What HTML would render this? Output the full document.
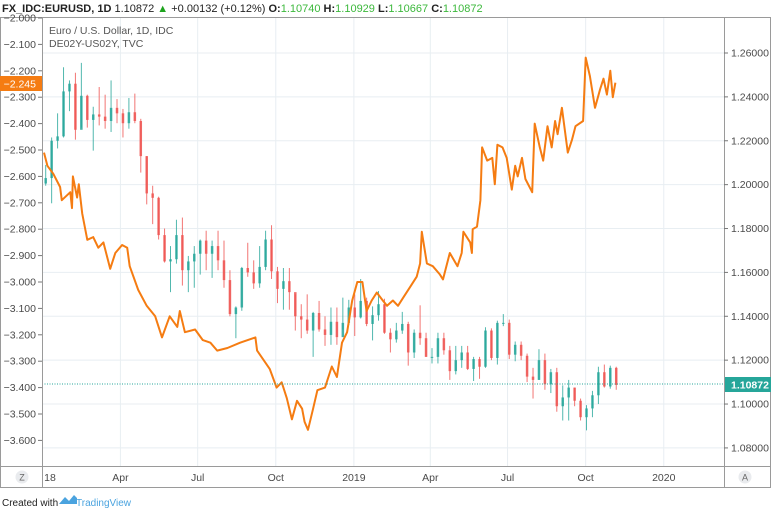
<!DOCTYPE html>
<html><head><meta charset="utf-8"><style>
body{margin:0;background:#fff;width:771px;height:510px;overflow:hidden;font-family:"Liberation Sans",sans-serif}
svg{display:block}
</style></head><body>
<svg width="771" height="510" viewBox="0 0 771 510" xmlns="http://www.w3.org/2000/svg">
<g id="grid"></g>
<g id="candles"></g>
<path id="spread" fill="none" stroke="#f57c12" stroke-width="2" stroke-linejoin="round"/>
<line x1="42" x2="724" y1="384" y2="384" stroke="#26a69a" stroke-width="1" stroke-dasharray="1,1.5"/>
<g stroke="#9a9a9a" fill="none">
<line x1="0" x2="771" y1="17.5" y2="17.5"/>
<line x1="42.5" x2="42.5" y1="17" y2="487"/>
<line x1="724.5" x2="724.5" y1="17" y2="487"/>
<line x1="0" x2="771" y1="466.5" y2="466.5"/>
<line x1="0" x2="771" y1="487.5" y2="487.5"/>
<line x1="0.5" x2="0.5" y1="17" y2="487"/>
<line x1="770.5" x2="770.5" y1="17" y2="487"/>
</g>
<g id="laxis" font-size="10.5" fill="#4a4a4a" text-anchor="end"></g>
<g id="raxis" font-size="10.5" fill="#4a4a4a"></g>
<g id="xaxis" font-size="10.5" fill="#4a4a4a" text-anchor="middle"></g>
<g><rect x="0" y="76" width="42" height="15" fill="#f57c12"/><text x="36" y="87.5" font-size="10.5" fill="#fff" text-anchor="end">−2.245</text></g>
<g><rect x="725" y="377" width="46" height="15" fill="#26a69a"/><text x="731" y="388.5" font-size="10.5" fill="#fff" font-weight="bold">1.10872</text></g>
<g font-size="11">
<text x="2" y="12" fill="#222" font-weight="bold">FX_IDC:EURUSD, 1D <tspan font-weight="normal">1.10872</tspan> <tspan fill="#1ea41e">▲</tspan> <tspan font-weight="normal">+0.00132 (+0.12%)</tspan> O:<tspan fill="#3cb83c" font-weight="normal">1.10740</tspan> H:<tspan fill="#3cb83c" font-weight="normal">1.10929</tspan> L:<tspan fill="#3cb83c" font-weight="normal">1.10667</tspan> C:<tspan fill="#3cb83c" font-weight="normal">1.10872</tspan></text>
</g>
<text x="49" y="34" font-size="10.5" fill="#555">Euro / U.S. Dollar, 1D, IDC</text>
<text x="49" y="47" font-size="10.5" fill="#555">DE02Y-US02Y, TVC</text>
<g><circle cx="22" cy="477" r="6.5" fill="#e9ebee"/><text x="22" y="480.5" font-size="9" fill="#666" text-anchor="middle">Z</text></g>
<g><circle cx="745" cy="477" r="6.5" fill="#e9ebee"/><text x="745" y="480.5" font-size="9" fill="#666" text-anchor="middle">A</text></g>
<g><text x="2" y="506" font-size="10" fill="#222">Created with</text>
<path d="M59 504 l6 -7 l4 4 l5 -6 l3 3 v6 z" fill="#4aa3df"/><text x="76" y="506" font-size="10" fill="#4aa3df">TradingView</text></g>
<script>
const closes=[1.2030,1.2200,1.2220,1.2425,1.2460,1.2250,1.2405,1.2295,1.2320,1.2310,1.2290,1.2350,1.2325,1.2280,1.2330,1.2290,1.2130,1.1960,1.1940,1.1770,1.1650,1.1660,1.1770,1.1610,1.1650,1.1685,1.1745,1.1685,1.1720,1.1655,1.1565,1.1410,1.1440,1.1620,1.1600,1.1550,1.1625,1.1750,1.1605,1.1525,1.1560,1.1510,1.1400,1.1385,1.1335,1.1415,1.1340,1.1315,1.1375,1.1305,1.1370,1.1440,1.1395,1.1470,1.1365,1.1405,1.1455,1.1325,1.1295,1.1335,1.1365,1.1235,1.1325,1.1300,1.1215,1.1215,1.1300,1.1245,1.1150,1.1200,1.1235,1.1160,1.1205,1.1170,1.1335,1.1210,1.1370,1.1370,1.1225,1.1270,1.1220,1.1125,1.1110,1.1200,1.1090,1.1145,1.0990,1.1030,1.1075,1.1015,1.0940,1.0980,1.1040,1.1145,1.1080,1.1165,1.1087];
const highs=[1.2090,1.2215,1.2325,1.2535,1.2475,1.2510,1.2555,1.2410,1.2355,1.2445,1.2410,1.2475,1.2390,1.2345,1.2395,1.2415,1.2300,1.2130,1.1995,1.1945,1.1800,1.1720,1.1840,1.1850,1.1675,1.1720,1.1750,1.1790,1.1745,1.1790,1.1745,1.1610,1.1445,1.1625,1.1735,1.1655,1.1720,1.1790,1.1815,1.1625,1.1620,1.1620,1.1500,1.1455,1.1500,1.1420,1.1470,1.1400,1.1440,1.1440,1.1485,1.1475,1.1500,1.1570,1.1485,1.1445,1.1515,1.1480,1.1345,1.1370,1.1420,1.1375,1.1340,1.1450,1.1325,1.1255,1.1325,1.1325,1.1265,1.1265,1.1265,1.1265,1.1215,1.1215,1.1350,1.1345,1.1380,1.1410,1.1385,1.1285,1.1285,1.1230,1.1165,1.1250,1.1230,1.1160,1.1165,1.1085,1.1110,1.1075,1.1025,1.0995,1.1060,1.1170,1.1180,1.1175,1.1170];
const lows=[1.1995,1.1915,1.2165,1.2215,1.2335,1.2205,1.2260,1.2260,1.2155,1.2270,1.2255,1.2240,1.2280,1.2215,1.2255,1.2280,1.2055,1.1910,1.1820,1.1750,1.1645,1.1510,1.1640,1.1540,1.1510,1.1530,1.1590,1.1610,1.1575,1.1610,1.1530,1.1400,1.1300,1.1425,1.1580,1.1525,1.1530,1.1610,1.1570,1.1460,1.1430,1.1430,1.1335,1.1300,1.1320,1.1215,1.1330,1.1265,1.1270,1.1270,1.1340,1.1360,1.1310,1.1390,1.1355,1.1290,1.1380,1.1320,1.1235,1.1280,1.1320,1.1175,1.1210,1.1270,1.1215,1.1185,1.1185,1.1225,1.1110,1.1135,1.1165,1.1155,1.1105,1.1115,1.1165,1.1200,1.1180,1.1355,1.1205,1.1195,1.1200,1.1100,1.1025,1.1110,1.1065,1.1050,1.0965,1.0925,1.0925,1.0990,1.0925,1.0880,1.0940,1.1000,1.1075,1.1070,1.1065];
const firstOpen=1.2005;
const spreadDays=[0,4,11,19,21,31,33,34,39,41,45,51,58,64,70,78,84,92,98,101,111,121,131,139,148,157,160,166,178,187,196,204,216,231,249,251,266,274,280,286,292,298,304,307,311,317,322,331,339,345,351,357,363,369,375,380,386,392,399,404,411,417,423,431,439,443,445,451,458,466,470,478,487,492,494,502,504,505,510,514,516,522,528,531,534,540,545,551,555,558,563,567,575,578,584,588,593,598,602,605,610,617,622,626,635,638,643,649,655,659,663,667,670,673];
const spreadVals=[-2.51,-2.56,-2.59,-2.64,-2.69,-2.66,-2.72,-2.60,-2.68,-2.63,-2.74,-2.84,-2.83,-2.87,-2.85,-2.95,-2.89,-2.86,-2.87,-2.94,-3.03,-3.09,-3.13,-3.21,-3.13,-3.17,-3.11,-3.19,-3.18,-3.22,-3.23,-3.26,-3.25,-3.23,-3.21,-3.26,-3.33,-3.40,-3.38,-3.44,-3.52,-3.45,-3.48,-3.53,-3.56,-3.48,-3.41,-3.40,-3.32,-3.36,-3.23,-3.19,-3.07,-3.00,-3.00,-3.11,-3.07,-3.04,-3.07,-3.09,-3.07,-3.09,-3.06,-3.02,-2.98,-2.93,-2.81,-2.93,-2.94,-2.97,-2.99,-2.89,-2.94,-2.89,-2.81,-2.85,-2.89,-2.80,-2.79,-2.69,-2.49,-2.54,-2.53,-2.63,-2.48,-2.49,-2.53,-2.65,-2.56,-2.60,-2.53,-2.61,-2.66,-2.40,-2.49,-2.54,-2.41,-2.49,-2.39,-2.44,-2.34,-2.51,-2.46,-2.41,-2.39,-2.15,-2.22,-2.34,-2.27,-2.23,-2.29,-2.20,-2.30,-2.245];
const leftTicks=[-2.0,-2.1,-2.2,-2.3,-2.4,-2.5,-2.6,-2.7,-2.8,-2.9,-3.0,-3.1,-3.2,-3.3,-3.4,-3.5,-3.6];
const rightTicks=[1.26,1.24,1.22,1.20,1.18,1.16,1.14,1.12,1.10,1.08];
const timeTickDays=[0,90,181,273,365,455,546,638,730];
const timeTickLabels=['18','Apr','Jul','Oct','2019','Apr','Jul','Oct','2020'];

const NS='http://www.w3.org/2000/svg';
const xOf=d=>44+d*0.849;
const yL=v=>18+(-2.0-v)*264;
const yR=p=>53+(1.26-p)*2194;
function mk(tag,attrs,parent){const e=document.createElementNS(NS,tag);for(const k in attrs)e.setAttribute(k,attrs[k]);parent.appendChild(e);return e;}
const grid=document.getElementById('grid');
rightTicks.forEach(t=>{const l=mk('line',{x1:42,x2:724,y1:yR(t),y2:yR(t),stroke:'#e8eef2'},grid);

});
timeTickDays.forEach((d,i)=>{if(i===0)return;const l=mk('line',{x1:xOf(d),x2:xOf(d),y1:17,y2:466,stroke:'#e8eef2'},grid);

});
const la=document.getElementById('laxis');
leftTicks.forEach(t=>{const y=yL(t);const tx=mk('text',{x:36,y:y+3.5},la);tx.textContent='−'+Math.abs(t).toFixed(3);


mk('line',{x1:38,x2:42,y1:y,y2:y,stroke:'#777'},la);});
const ra=document.getElementById('raxis');
rightTicks.forEach(t=>{const y=yR(t);const tx=mk('text',{x:731,y:y+3.5},ra);tx.textContent=t.toFixed(5);


mk('line',{x1:724,x2:728,y1:y,y2:y,stroke:'#777'},ra);});
const xa=document.getElementById('xaxis');
timeTickDays.forEach((d,i)=>{const tx=mk('text',{x:xOf(d)+(i===0?6:0),y:481},xa);tx.textContent=timeTickLabels[i];

});
const cg=document.getElementById('candles');
closes.forEach((c,i)=>{const o=i===0?firstOpen:closes[i-1];const x=xOf(2+7*i);const up=c>=o;const col=up?'#26a69a':'#ef5350';
const w=mk('line',{x1:x,x2:x,y1:yR(highs[i]),y2:yR(lows[i]),stroke:col,'stroke-opacity':0.8},cg);


const top=yR(Math.max(o,c)),bot=yR(Math.min(o,c));
const b=mk('rect',{x:x-1.25,y:top,width:2.5,height:Math.max(1,bot-top),fill:col,'fill-opacity':0.85},cg);

});
document.getElementById('spread').setAttribute('d',spreadDays.map((d,i)=>(i?'L':'M')+xOf(d).toFixed(1)+' '+yL(spreadVals[i]).toFixed(1)).join(' '));
</script>
</svg>
</body></html>
